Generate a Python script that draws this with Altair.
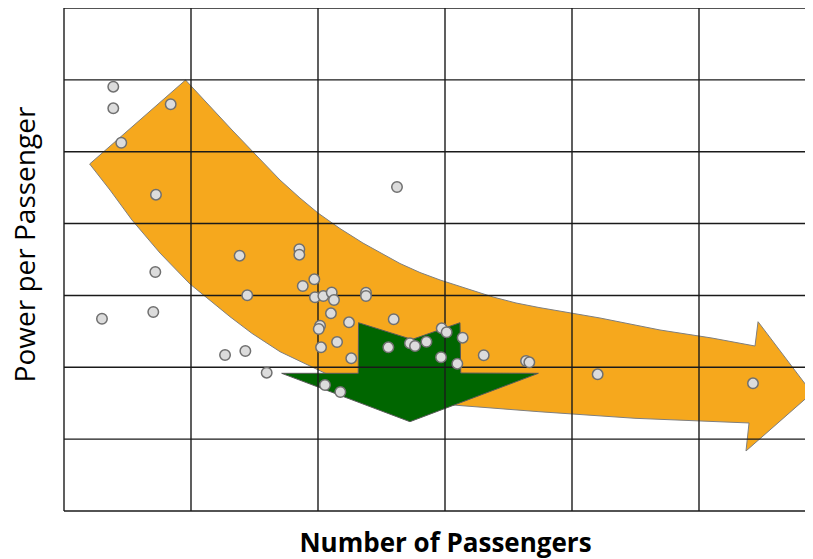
import altair as alt
import pandas as pd

# Scatter points (x: number of passengers, y: power per passenger; arbitrary units, grid = 1 unit)
pt_x = [0.388, 0.388, 0.840, 0.451, 0.724, 1.383, 0.719, 1.443, 0.703, 0.299,
        1.268, 1.428, 1.596, 2.622, 1.853, 1.853, 1.971, 1.880, 1.976, 2.042,
        2.108, 2.126, 2.378, 2.378, 2.102, 2.244, 2.596, 2.016, 2.006, 2.150,
        2.024, 2.554, 2.724, 2.764, 2.854, 2.262, 2.055, 2.176, 2.974, 3.013,
        3.139, 2.969, 3.097, 3.305, 3.638, 3.664, 4.202, 5.425]
pt_y = [5.905, 5.604, 5.660, 5.125, 4.402, 3.553, 3.326, 3.002, 2.769, 2.676,
        2.171, 2.227, 1.925, 4.509, 3.642, 3.567, 3.224, 3.131, 2.974, 2.992,
        3.041, 2.936, 3.038, 2.992, 2.751, 2.626, 2.668, 2.579, 2.533, 2.352,
        2.278, 2.278, 2.334, 2.296, 2.356, 2.125, 1.753, 1.656, 2.542, 2.487,
        2.412, 2.139, 2.050, 2.167, 2.087, 2.069, 1.902, 1.777]

# Orange curved trend arrow outline (same units)
orange_x = [0.957, 1.323, 1.701, 1.858, 2.000, 2.173, 2.354, 2.646, 2.803, 2.961,
            3.378, 3.559, 3.740, 4.220, 4.693, 5.102, 5.441, 5.465, 5.890, 5.370,
            5.394, 4.496, 3.740, 3.063, 2.646, 2.252, 1.937, 1.701, 1.479, 1.307,
            0.992, 0.756, 0.535, 0.362, 0.202]
orange_y = [5.998, 5.302, 4.606, 4.356, 4.147, 3.931, 3.729, 3.444, 3.319, 3.215,
            2.978, 2.895, 2.832, 2.686, 2.519, 2.407, 2.296, 2.634, 1.642, 0.835,
            1.225, 1.290, 1.382, 1.475, 1.573, 1.753, 2.018, 2.217, 2.473, 2.704,
            3.159, 3.590, 4.050, 4.467, 4.829]

# Green downward arrow outline
green_x = [1.714, 2.317, 2.319, 2.740, 3.118, 3.124, 3.735, 2.724]
green_y = [1.916, 1.916, 2.620, 2.387, 2.620, 1.920, 1.916, 1.243]

grid_x = [0, 1, 2, 3, 4, 5]
grid_y = [0, 1, 2, 3, 4, 5, 6, 7]

X_MAX = 741 / 127
Y_MAX = 7

xs = alt.Scale(domain=[0, X_MAX], nice=False, zero=False)
ys = alt.Scale(domain=[0, Y_MAX], nice=False, zero=False)

x_axis = alt.Axis(labels=False, ticks=False, domain=False, grid=False,
                  title="Number of Passengers", titleFont="Open Sans", titleFontSize=26,
                  titleFontWeight="bold", titleColor="#000000", titleX=381, titleY=40,
                  titleBaseline="alphabetic", titleAnchor="middle", titleAlign="center")
y_axis = alt.Axis(labels=False, ticks=False, domain=False, grid=False,
                  title="Power per Passenger", titleFont="Open Sans", titleFontSize=28,
                  titleFontWeight="normal", titleColor="#000000", titleX=-30, titleY=236,
                  titleAngle=-90, titleBaseline="alphabetic", titleAlign="center")


def poly(px, py):
    n = len(px)
    return pd.DataFrame({"x": px + [px[0]], "y": py + [py[0]], "i": list(range(n + 1))})


def enc(ch):
    return ch.encode(
        x=alt.X("x:Q", scale=xs, axis=x_axis),
        y=alt.Y("y:Q", scale=ys, axis=y_axis),
    )


orange = enc(alt.Chart(poly(orange_x, orange_y)).mark_line(
    fill="#F6A81D", stroke="#7F7F7F", strokeWidth=1, strokeJoin="miter", clip=True
)).encode(order="i:Q")

green = enc(alt.Chart(poly(green_x, green_y)).mark_line(
    fill="#006600", stroke="#5A5A5A", strokeWidth=1, strokeJoin="miter"
)).encode(order="i:Q")

vlines = alt.Chart(pd.DataFrame({"x": grid_x})).mark_rule(
    color="#1A1A1A", strokeWidth=1.4
).encode(x=alt.X("x:Q", scale=xs, axis=x_axis))

hlines = alt.Chart(pd.DataFrame({"y": grid_y})).mark_rule(
    color="#1A1A1A", strokeWidth=1.4
).encode(y=alt.Y("y:Q", scale=ys, axis=y_axis))

points = enc(alt.Chart(pd.DataFrame({"x": pt_x, "y": pt_y})).mark_circle(
    size=110, color="#DCDCDC", opacity=1, stroke="#707070", strokeWidth=1.5
))

chart = alt.layer(orange, green, vlines, hlines, points).properties(
    width=741,
    height=503,
    autosize=alt.AutoSizeParams(type="none"),
    padding={"left": 56, "top": 0, "right": 0, "bottom": 48},
    background="#FFFFFF",
).configure_view(stroke=None)

chart.save("out.html", embed_options={"renderer": "svg", "actions": False})
